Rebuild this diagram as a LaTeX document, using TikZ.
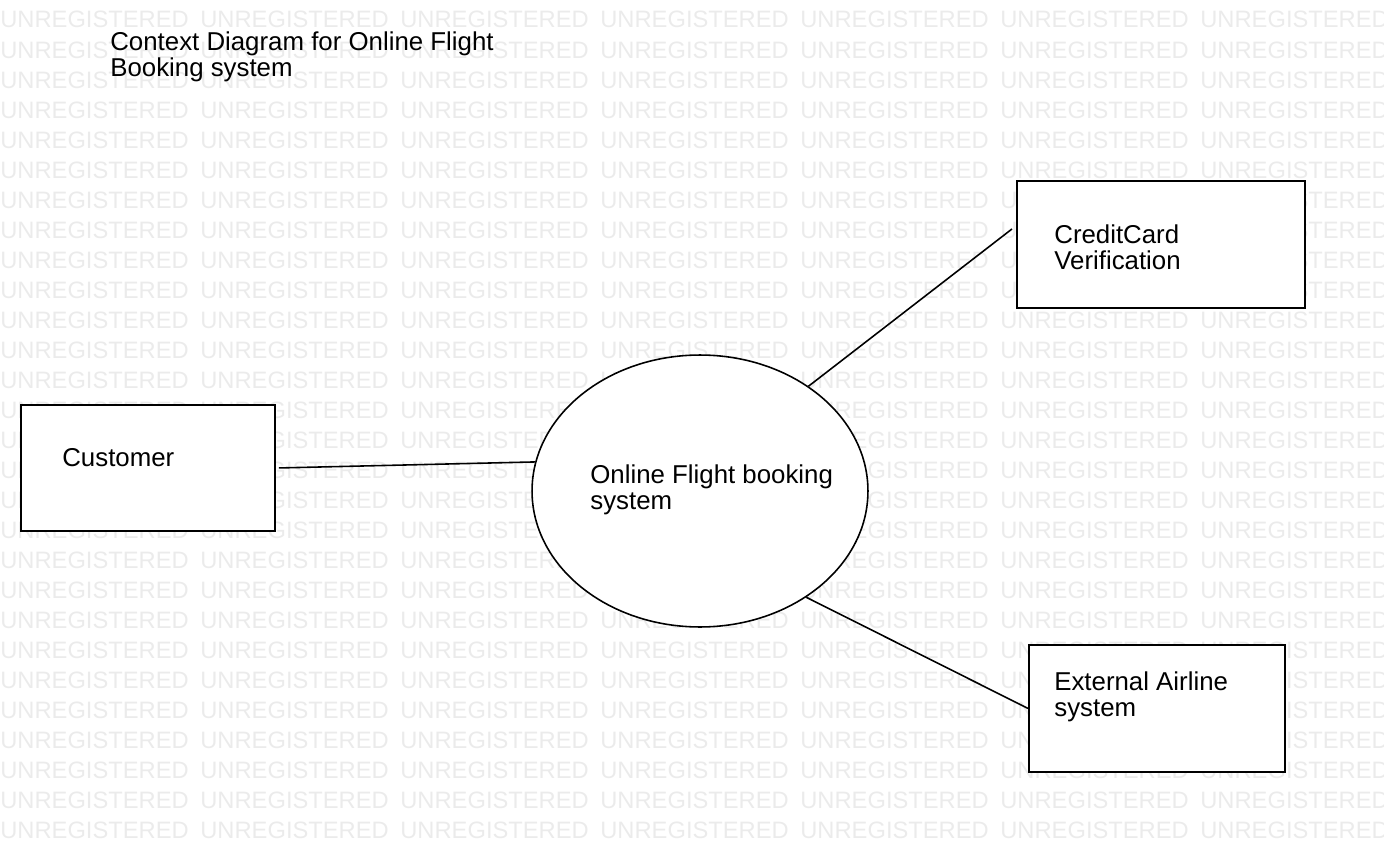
\documentclass[tikz,border=0pt]{standalone}
\usepackage{fontspec}
\setmainfont{Liberation Sans}
\usepackage{tikz}
\usetikzlibrary{shapes.geometric}
\definecolor{wmark}{HTML}{EBEBEB}
\tikzstyle{entity}  = [rectangle, draw=black, line width=1.1pt, fill=white, inner sep=0pt, anchor=north west]
\tikzstyle{process} = [ellipse, draw=black, line width=0.9pt, fill=white, inner sep=0pt]
\tikzstyle{txt}     = [inner sep=0pt, anchor=base west, align=left, font=\fontsize{14.7}{14.7}\selectfont]
\tikzstyle{wm}      = [inner sep=0pt, anchor=base west, text=wmark, font=\fontsize{13.5}{13.5}\selectfont]
\tikzstyle{flow}    = [line width=0.9pt]

\begin{document}
\begin{tikzpicture}[x=0.02cm, y=-0.02cm]
    \useasboundingbox (0,0) rectangle (1384,852);
    \clip (0,0) rectangle (1384,852);
    % watermark
    \foreach \r in {0,...,27}
        \foreach \c in {0,...,6}
            \node [wm] at (200*\c, 28+30*\r) {UNREGISTERED};

    % base of a two-line text is its last line
    \node (title) [txt] at (110,76) {Context Diagram for Online Flight\\Booking system};

    \node (cust) [entity, minimum width=5.08cm, minimum height=2.52cm] at (20,404) {};
    \node (cc)   [entity, minimum width=5.76cm, minimum height=2.54cm] at (1016,180) {};
    \node (ext)  [entity, minimum width=5.12cm, minimum height=2.54cm] at (1028,644) {};
    \node (sys)  [process, minimum width=6.72cm, minimum height=5.44cm] at (700,491) {};

    \node (custtxt) [txt] at (62,466) {Customer};
    \node (cctxt)   [txt] at (1054,269) {CreditCard\\Verification};
    \node (exttxt)  [txt] at (1054,716) {External Airline\\system};
    \node (systxt)  [txt] at (590,509) {Online Flight booking\\system};

    \draw [flow] ([xshift=0.06cm]cust.east) -- (sys.170.7);
    \draw [flow] (sys.44.7) -- ([xshift=-0.08cm, yshift=0.31cm]cc.west);
    \draw [flow] (sys.-45.3) -- (ext.west);
\end{tikzpicture}
\end{document}
